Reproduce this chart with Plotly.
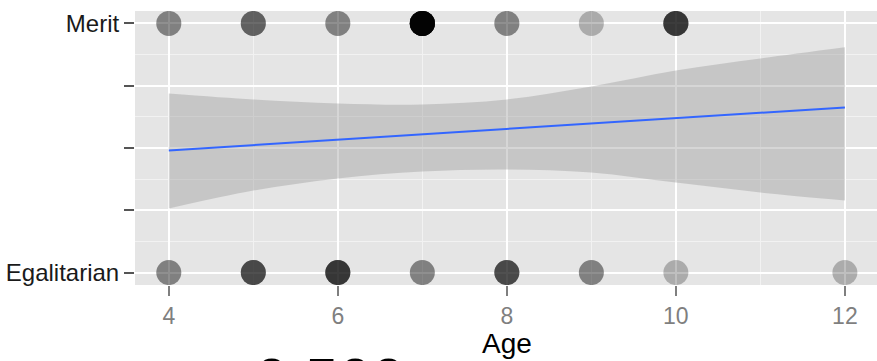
import plotly.graph_objs as go

# ages and how many children picked each option (points are stacked with alpha)
ages = [4, 5, 6, 7, 8, 9, 10, 11, 12]
merit_counts = [2, 3, 2, 14, 2, 1, 5, 0, 0]
egal_counts = [2, 4, 5, 2, 4, 2, 1, 0, 1]

# fitted line and its confidence band
fit_x = [4, 12]
fit_y = [0.490, 0.663]
band_x = [4, 5, 6, 7, 8, 9, 10, 11, 12]
band_hi = [0.719, 0.695, 0.679, 0.675, 0.695, 0.747, 0.811, 0.859, 0.904]
band_lo = [0.257, 0.329, 0.378, 0.406, 0.414, 0.402, 0.361, 0.321, 0.289]

y_vals = [0, 0.25, 0.5, 0.75, 1]
y_text = ['Egalitarian', '', '', '', 'Merit']
x_vals = [4, 6, 8, 10, 12]

x_title = 'Age'
big_label = '0.500'

font = 'Liberation Sans, Arial, sans-serif'

pts_x, pts_y = [], []
for a, n in zip(ages, merit_counts):
    pts_x += [a] * n
    pts_y += [1] * n
for a, n in zip(ages, egal_counts):
    pts_x += [a] * n
    pts_y += [0] * n

lower = go.Scatter(x=band_x, y=band_lo, mode='lines', line=dict(width=0, shape='spline'),
                   showlegend=False, hoverinfo='skip')
upper = go.Scatter(x=band_x, y=band_hi, mode='lines', line=dict(width=0, shape='spline'),
                   fill='tonexty', fillcolor='rgba(153,153,153,0.4)',
                   showlegend=False, hoverinfo='skip')
fit = go.Scatter(x=fit_x, y=fit_y, mode='lines', line=dict(color='#3366FF', width=2),
                 showlegend=False)
points = go.Scatter(x=pts_x, y=pts_y, mode='markers',
                    marker=dict(color='black', opacity=0.25, size=25, line=dict(width=0)),
                    showlegend=False)

layout = go.Layout(
    width=877,
    height=361,
    margin=dict(l=135, r=0, t=11, b=76),
    paper_bgcolor='white',
    plot_bgcolor='#E5E5E5',
    font=dict(family=font),
    xaxis=dict(
        range=[3.6, 12.38],
        automargin=False,
        tickvals=x_vals,
        ticks='outside', ticklen=10, tickwidth=2, tickcolor='#7f7f7f',
        tickfont=dict(size=23, color='#7f7f7f'),
        showgrid=True, gridcolor='white', gridwidth=2,
        minor=dict(dtick=1, tick0=5, showgrid=True, gridcolor='#F2F2F2', gridwidth=1),
        zeroline=False, showline=False,
    ),
    yaxis=dict(
        range=[-0.05, 1.05],
        automargin=False,
        tickvals=y_vals, ticktext=y_text,
        ticks='outside', ticklen=10, tickwidth=2, tickcolor='#555555',
        tickfont=dict(size=24, color='#1a1a1a'),
        showgrid=True, gridcolor='white', gridwidth=2,
        minor=dict(dtick=0.25, tick0=0.125, showgrid=True, gridcolor='#F2F2F2', gridwidth=1),
        zeroline=False, showline=False,
    ),
    annotations=[
        dict(text=x_title, xref='paper', yref='paper', x=0.501, y=-0.15,
             xanchor='center', yanchor='top', showarrow=False,
             font=dict(size=28, color='black', family=font)),
        dict(text=big_label, xref='paper', yref='paper', x=0.263, y=-0.215,
             xanchor='center', yanchor='top', showarrow=False,
             font=dict(size=60, color='black', family=font)),
    ],
)

fig = go.Figure(data=[lower, upper, fit, points], layout=layout)
fig.write_html("out.html", config={'displayModeBar': False},
               post_script="document.body.style.margin='0';")
